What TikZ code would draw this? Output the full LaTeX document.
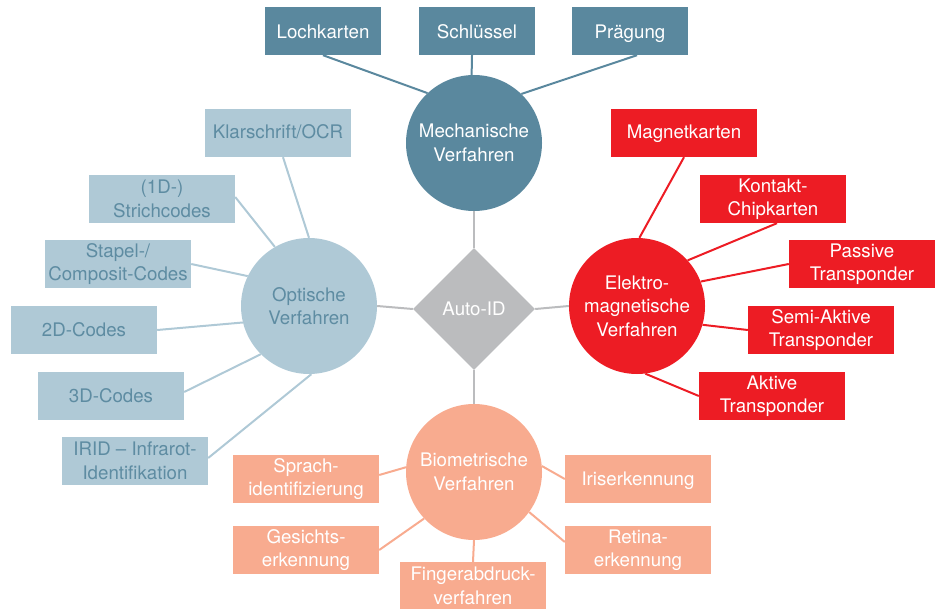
\documentclass[tikz,border=0pt]{standalone}
\usepackage{fontspec}
\setmainfont{TeX Gyre Heros}
\usetikzlibrary{shapes.geometric,calc}
\definecolor{mechc}{HTML}{5A889E}
\definecolor{optc}{HTML}{AFC9D6}
\definecolor{opttext}{HTML}{5E8CA2}
\definecolor{redc}{HTML}{ED1C24}
\definecolor{bioc}{HTML}{F8AB8F}
\definecolor{grayc}{HTML}{BBBCBE}
\tikzset{
  txt/.style={font=\fontsize{18.7}{23.5}\selectfont, align=center, inner sep=0pt},
  circ/.style={txt, circle, minimum size=136pt},
  box/.style={txt, rectangle, minimum height=48pt},
  single/.style={text height=12pt, text depth=0pt},
  mechbox/.style={box, fill=mechc, text=white, minimum width=116pt, text height=15pt, text depth=0pt},
  optbox/.style={box, fill=optc, text=opttext, minimum width=146pt},
  redbox/.style={box, fill=redc, text=white, minimum width=146pt},
  biobox/.style={box, fill=bioc, text=white, minimum width=146pt},
  mechline/.style={draw=mechc, line width=2pt},
  optline/.style={draw=optc, line width=2pt},
  redline/.style={draw=redc, line width=2pt},
  bioline/.style={draw=bioc, line width=2pt},
  grayline/.style={draw=grayc, line width=2pt},
}
\begin{document}
\begin{tikzpicture}[x=1pt, y=-1pt]
\useasboundingbox (0,0) rectangle (941,609);
% centre nodes
\node[circ, fill=mechc, text=white] (mech) at (474,143) {Mechanische\\Verfahren};
\node[circ, fill=optc, text=opttext] (opt) at (309,306) {Optische\\Verfahren};
\node[circ, fill=redc, text=white] (elek) at (637,306) {Elektro-\\magnetische\\Verfahren};
\node[circ, fill=bioc, text=white] (bio) at (474,472) {Biometrische\\Verfahren};
\node[txt, diamond, fill=grayc, text=white, minimum width=122pt, minimum height=122pt] (auto) at (474,309) {Auto-ID};
% gray connectors
\draw[grayline] (mech.south) -- (auto.north);
\draw[grayline] (auto.east) -- (elek.west);
\draw[grayline] (auto.west) -- (opt.east);
\draw[grayline] (auto.south) -- (bio.north);
% mechanical
\node[mechbox] (loch) at (323,31) {Lochkarten};
\node[mechbox] (schl) at (477,31) {Schlüssel};
\node[mechbox] (praeg) at (630,31) {Prägung};
\draw[mechline] (loch.south) -- (mech.133);
\draw[mechline] ($(schl.south)+(-5,0)$) -- (mech.92);
\draw[mechline] ($(praeg.south)+(7,0)$) -- (mech.46);
% optical
\node[optbox, single] (klar) at (278,133) {Klarschrift/OCR};
\node[optbox] (strich) at (162,199) {(1D-)\\Strichcodes};
\node[optbox] (stapel) at (118,264) {Stapel-/\\Composit-Codes};
\node[optbox, single] (zwei) at (84,330) {2D-Codes};
\node[optbox, single] (drei) at (111,396) {3D-Codes};
\node[optbox] (irid) at (135,461) {IRID – Infrarot-\\Identifikation};
\draw[optline] ($(klar.south)+(5,0)$) -- (opt.north);
\draw[optline] ($(strich.east)+(0,-2)$) -- (opt.120);
\draw[optline] (stapel.east) -- (opt.154);
\draw[optline] (zwei.east) -- (opt.194);
\draw[optline] ($(drei.east)+(0,-4)$) -- (opt.225);
\draw[optline] ($(irid.east)+(0,-3)$) -- (opt.272);
% electromagnetic
\node[redbox, single] (magn) at (684,133) {Magnetkarten};
\node[redbox] (kont) at (773,199) {Kontakt-\\Chipkarten};
\node[redbox] (pass) at (862,264) {Passive\\Transponder};
\node[redbox] (semi) at (821,330) {Semi-Aktive\\Transponder};
\node[redbox] (akt) at (772,396) {Aktive\\Transponder};
\draw[redline] (magn.south) -- (elek.88);
\draw[redline] ($(kont.south)+(4,0)$) -- (elek.42);
\draw[redline] (pass.west) -- (elek.21);
\draw[redline] (semi.west) -- (elek.-16);
\draw[redline] (akt.west) -- (elek.277);
% biometric
\node[biobox] (sprach) at (306,479) {Sprach-\\identifizierung};
\node[biobox] (gesicht) at (306,550) {Gesichts-\\erkennung};
\node[biobox] (finger) at (473,586) {Fingerabdruck-\\verfahren};
\node[biobox, single] (iris) at (638,479) {Iriserkennung};
\node[biobox] (retina) at (638,550) {Retina-\\erkennung};
\draw[bioline] ($(sprach.east)+(0,-4)$) -- (bio.176);
\draw[bioline] (gesicht.east) -- (bio.223);
\draw[bioline] (finger.north) -- (bio.south);
\draw[bioline] (iris.west) -- (bio.5);
\draw[bioline] ($(retina.west)+(0,-8)$) -- (bio.-36);
\end{tikzpicture}
\end{document}
